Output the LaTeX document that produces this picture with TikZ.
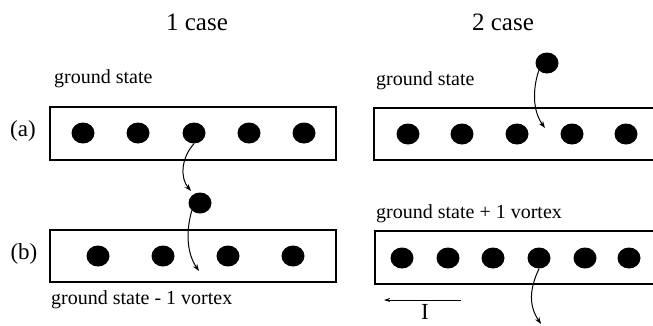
\documentclass[tikz,border=0pt]{standalone}
\usepackage{fontspec}
\setmainfont{Liberation Serif}
\usetikzlibrary{shapes.geometric,arrows.meta}
\begin{document}
\begin{tikzpicture}[x=1pt,y=-1pt,
  vdot/.style={ellipse,fill=black,draw=none,minimum width=23pt,minimum height=21pt,inner sep=0pt},
  strip/.style={draw=black,line width=1.4pt},
  arr/.style={draw=black,line width=1pt,-{Stealth[length=7pt,width=5pt]}},
  lab/.style={font=\fontsize{20}{24}\selectfont,inner sep=0pt,anchor=west},
  head/.style={font=\fontsize{25}{28}\selectfont,inner sep=0pt},
  side/.style={font=\fontsize{23}{26}\selectfont,inner sep=0pt}]
\useasboundingbox (0,0) rectangle (653,325);
\begin{scope}
\clip (0,0) rectangle (653,325);
% headings
\node[head] (h1) at (197,22) {1 case};
\node[head] (h2) at (503,22) {2 case};
% left (a)
\node[lab] (la) at (54,79) {ground state};
\draw[strip] (50,107) rectangle (336,160);
\node[side] (pa) at (23,131) {(a)};
\foreach \i/\x in {1/83,2/138,3/194,4/249,5/304}
  \node[vdot] (a\i) at (\x,133) {};
\node[vdot] (fa) at (200,203) {};
\coordinate (ta) at (191,191);
\draw[arr] (a3.south) .. controls (181,158) and (180,178) .. (ta);
% left (b)
\draw[strip] (50,230) rectangle (336,282);
\node[side] (pb) at (24,254) {(b)};
\foreach \i/\x in {1/98,2/163,3/228,4/293}
  \node[vdot] (b\i) at (\x,256) {};
\coordinate (tb) at (199,271);
\draw[arr] (fa.south west) .. controls (185,235) and (188,255) .. (tb);
\node[lab] (lb) at (51,300) {ground state - 1 vortex};
% right (a)
\node[lab] (ra) at (376,81) {ground state};
\draw[strip] (700,108) -- (374,108) -- (374,160) -- (700,160);
\foreach \i/\x in {1/408,2/462,3/517,4/572,5/626}
  \node[vdot] (c\i) at (\x,134) {};
\node[vdot] (fc) at (547,63) {};
\coordinate (tc) at (545,128);
\draw[arr] (fc.south west) .. controls (533,88) and (532,110) .. (tc);
% right (b)
\node[lab] (rb) at (376,214) {ground state + 1 vortex};
\draw[strip] (700,231) -- (375,231) -- (375,284) -- (700,284);
\foreach \i/\x in {1/402,2/448,3/493,4/539,5/585,6/629}
  \node[vdot] (d\i) at (\x,258) {};
\coordinate (td) at (541,324);
\draw[arr] (d4.south) .. controls (529,290) and (529,306) .. (td);
% current
\coordinate (i0) at (461,300);
\coordinate (i1) at (384,300);
\draw[arr,line width=0.9pt,-{Stealth[length=6pt,width=4pt]}] (i0) -- (i1);
\node[font=\fontsize{23}{26}\selectfont,inner sep=0pt,anchor=north] (cur) at (425,304) {I};
\end{scope}
\end{tikzpicture}
\end{document}
